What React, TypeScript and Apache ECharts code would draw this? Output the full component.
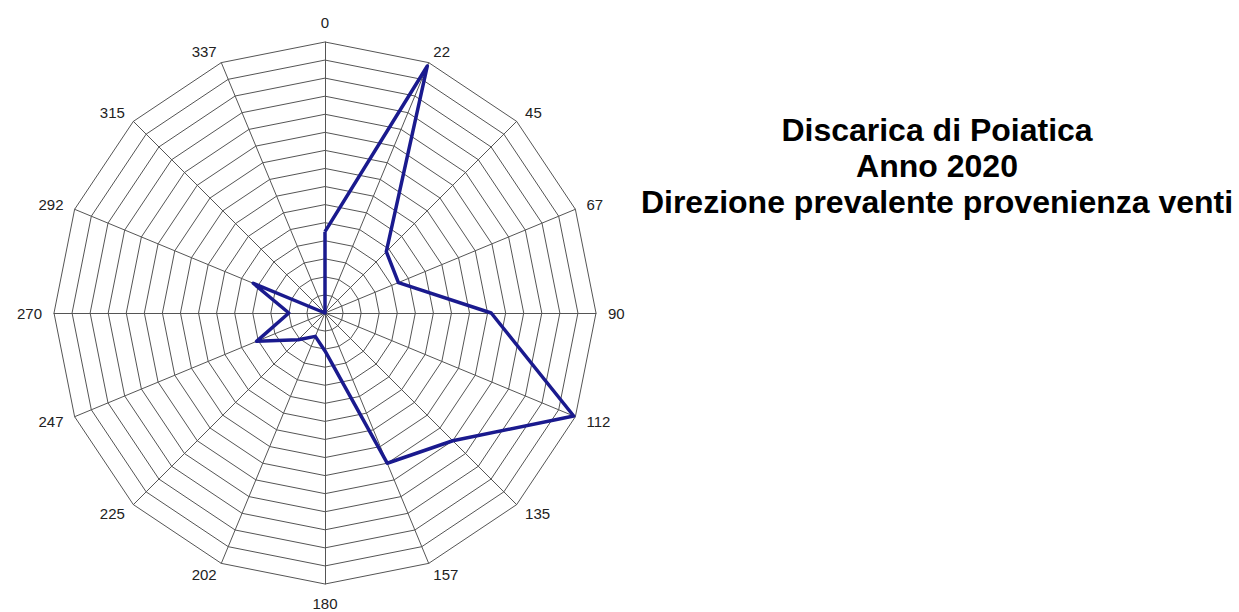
import React, { useEffect, useRef } from "react";
import * as echarts from "echarts";

// Directions listed clockwise from north
const directions: string[] = ["0", "22", "45", "67", "90", "112", "135", "157", "180", "202", "225", "247", "270", "292", "315", "337"];
const windValues: number[] = [4.5, 14.8, 4.8, 4.4, 9.2, 14.9, 10, 9.0, 2.1, 1.4, 2.1, 4.1, 2.0, 4.3, 0, 0];
const scaleMax = 15;
const titleLines: string[] = ["Discarica di Poiatica", "Anno 2020", "Direzione prevalente provenienza venti"];

export default function App() {
  const ref = useRef<HTMLDivElement>(null);
  useEffect(() => {
    if (!ref.current) return;
    const chart = echarts.init(ref.current, undefined, { renderer: "svg" });
    // ECharts radar goes counter-clockwise: reorder so that the chart reads clockwise
    const order = [0, ...Array.from({ length: directions.length - 1 }, (_, i) => directions.length - 1 - i)];
    const indicator = order.map((i) => ({ name: directions[i], min: 0, max: scaleMax }));
    const data = order.map((i) => windValues[i]);
    chart.setOption({
      animation: false,
      backgroundColor: "#ffffff",
      title: {
        text: titleLines.join("\n"),
        left: 932,
        top: 107,
        textAlign: "center",
        textStyle: {
          fontFamily: "Arial, 'Liberation Sans', sans-serif",
          fontWeight: "bold",
          fontSize: 32,
          lineHeight: 36,
          color: "#000",
          align: "center",
        },
      },
      radar: {
        center: [325, 313],
        radius: 271,
        startAngle: 90,
        shape: "polygon",
        splitNumber: 15,
        indicator,
        nameGap: 12,
        axisName: {
          color: "#222",
          fontSize: 15,
          fontFamily: "Arial, 'Liberation Sans', sans-serif",
        },
        axisLine: { show: true, lineStyle: { color: "#555", width: 1 } },
        axisTick: { show: false },
        axisLabel: { show: false },
        splitLine: { show: true, lineStyle: { color: "#555", width: 1 } },
        splitArea: { show: false },
      },
      series: [
        {
          type: "radar",
          symbol: "none",
          lineStyle: { color: "#1a1a8e", width: 3.5 },
          data: [{ value: data, name: "Venti" }],
        },
      ],
    });
    return () => chart.dispose();
  }, []);
  return (
    <div
      ref={ref}
      style={{ position: "fixed", left: 0, top: 0, width: 1239, height: 612, background: "#fff" }}
    />
  );
}
